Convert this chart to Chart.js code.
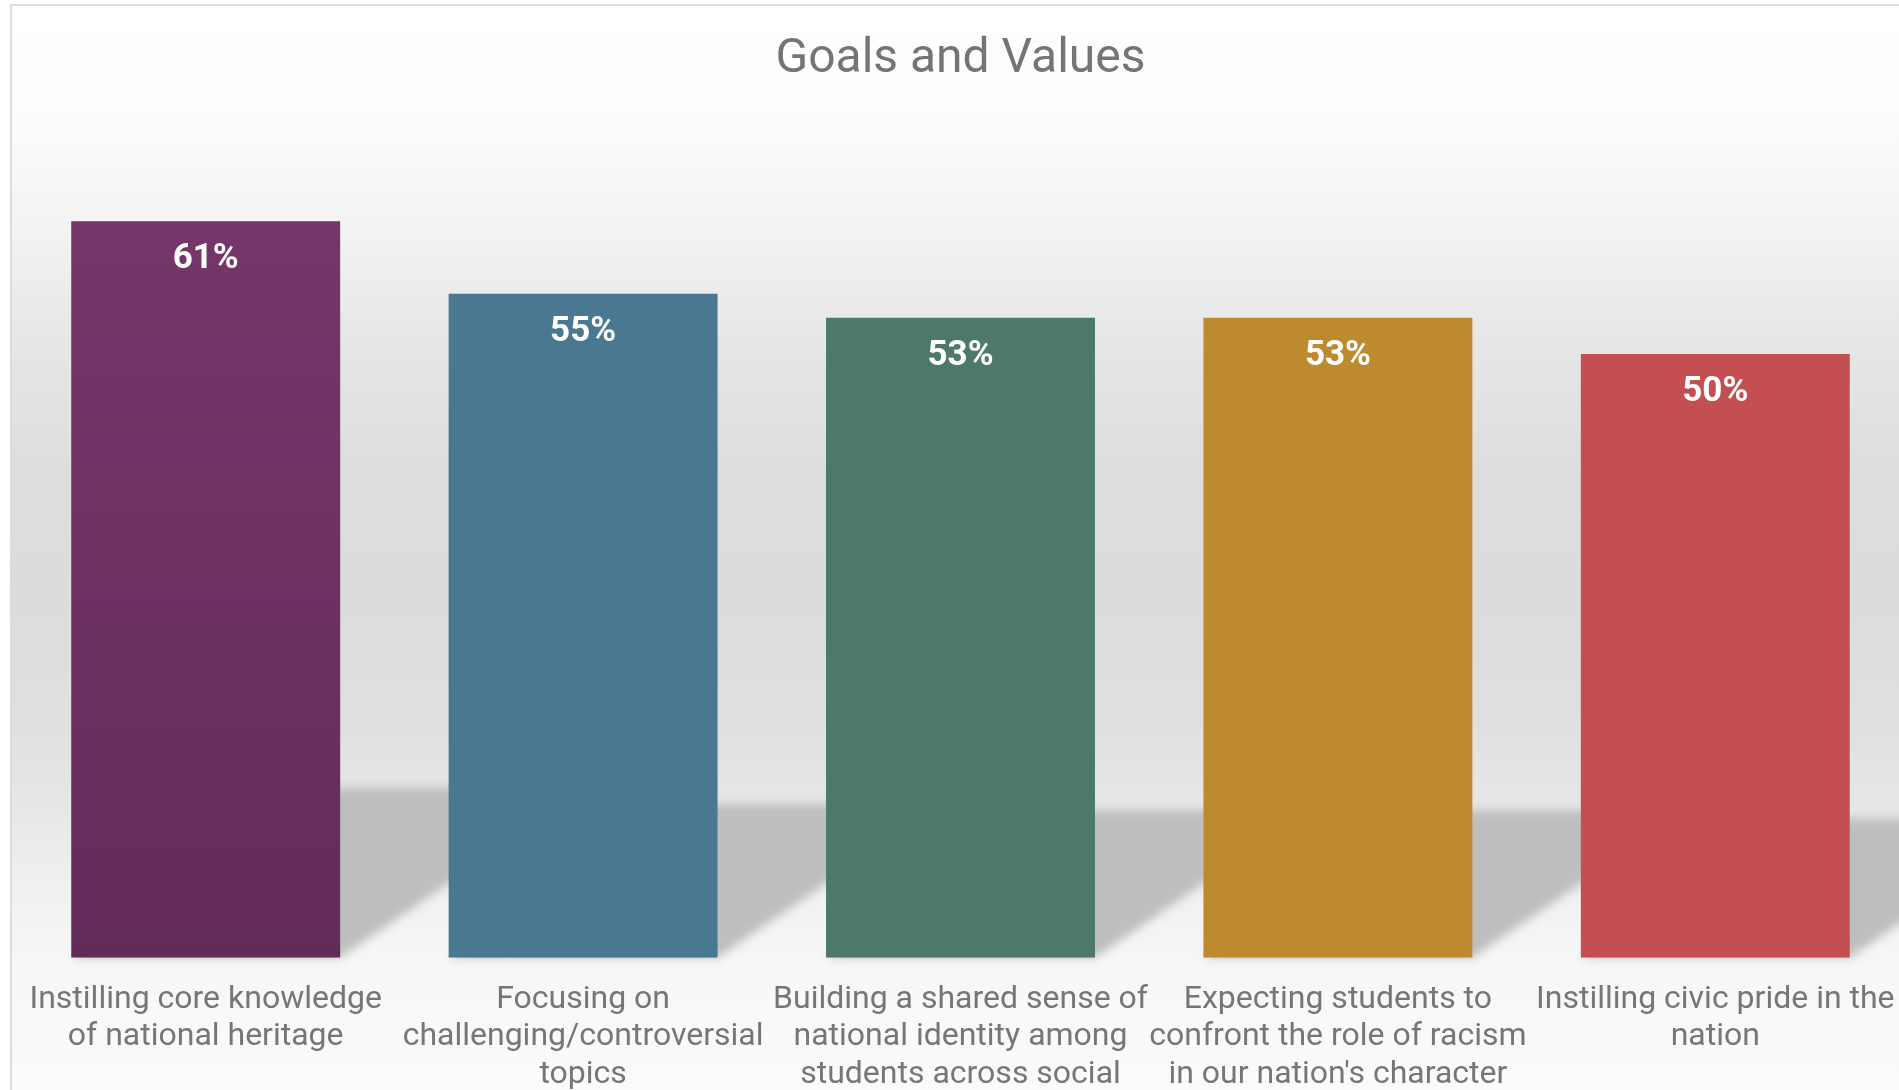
<!DOCTYPE html>
<html>
<head>
<meta charset="utf-8">
<script src="https://cdn.jsdelivr.net/npm/chart.js@4.4.1/dist/chart.umd.min.js"></script>
<style>
  html, body { margin: 0; padding: 0; background: #ffffff; overflow: hidden; width: 1899px; height: 1090px; }
  #frame {
    position: absolute; left: 10px; top: 4px;
    width: 1900px; height: 1140px;
    border: 2px solid #dcdcdc;
    background: linear-gradient(to bottom,
      #ffffff 0px, #fdfdfd 100px, #f3f3f3 220px, #e6e6e6 340px, #dddddd 470px,
      #dcdcdc 600px, #e0e0e0 720px, #e6e6e6 790px, #f0f0f0 880px, #f7f7f7 960px, #fbfbfb 1086px);
  }
  #wrap { position: absolute; left: 0; top: 0; width: 1900px; height: 1103px; }
</style>
</head>
<body>
<div id="frame"><div id="wrap"><canvas id="c"></canvas></div></div>
<script>
const chartTitle = 'Goals and Values';
const categories = [
  ['Instilling core knowledge', 'of national heritage'],
  ['Focusing on', 'challenging/controversial', 'topics'],
  ['Building a shared sense of', 'national identity among', 'students across social'],
  ['Expecting students to', 'confront the role of racism', "in our nation's character"],
  ['Instilling civic pride in the', 'nation']
];
const values = [61, 55, 53, 53, 50];
const barColors = ['#70346a', '#4b7891', '#4d796d', '#bd8a2d', '#c44f51'];
const firstBarGradient = ['#79376b', '#622c5a'];

const shadowPlugin = {
  id: 'floorShadow',
  beforeDatasetsDraw(chart) {
    const ctx = chart.ctx;
    const meta = chart.getDatasetMeta(0);
    ctx.save();
    ctx.filter = 'blur(5px)';
    ctx.fillStyle = '#bebebe';
    meta.data.forEach(bar => {
      const p = bar.getProps(['x', 'y', 'base', 'width'], true);
      const L = p.x - p.width / 2, R = p.x + p.width / 2;
      const h = p.base - p.y;
      const dx = h * 0.338, dy = h * 0.231;
      ctx.beginPath();
      ctx.moveTo(L, p.base);
      ctx.lineTo(R, p.base);
      ctx.lineTo(R + dx, p.base - dy);
      ctx.lineTo(L + dx, p.base - dy);
      ctx.closePath();
      ctx.fill();
    });
    ctx.restore();
  }
};

const valueLabelPlugin = {
  id: 'valueLabels',
  afterDatasetsDraw(chart) {
    const ctx = chart.ctx;
    const meta = chart.getDatasetMeta(0);
    ctx.save();
    ctx.fillStyle = '#ffffff';
    ctx.font = 'bold 35px Roboto';
    ctx.textAlign = 'center';
    ctx.textBaseline = 'alphabetic';
    meta.data.forEach((bar, i) => {
      const p = bar.getProps(['x', 'y'], true);
      ctx.fillText(values[i] + '%', p.x, p.y + 47);
    });
    ctx.restore();
  }
};

new Chart(document.getElementById('c'), {
  type: 'bar',
  data: {
    labels: categories,
    datasets: [{
      data: values,
      backgroundColor: (c) => {
        if (c.dataIndex === 0 && c.chart.chartArea) {
          const a = c.chart.chartArea;
          const el = c.chart.getDatasetMeta(0).data[0];
          const top = el && isFinite(el.y) ? el.y : a.top;
          const g = c.chart.ctx.createLinearGradient(0, top, 0, a.bottom);
          g.addColorStop(0, firstBarGradient[0]);
          g.addColorStop(1, firstBarGradient[1]);
          return g;
        }
        return barColors[c.dataIndex];
      },
      borderWidth: 0,
      categoryPercentage: 1.0,
      barPercentage: 0.7126
    }]
  },
  options: {
    responsive: true,
    maintainAspectRatio: false,
    animation: false,
    layout: { padding: { left: 5, right: 8, top: 0, bottom: 0 } },
    plugins: {
      legend: { display: false },
      tooltip: { enabled: false },
      title: {
        display: true,
        text: chartTitle,
        color: '#757575',
        font: { family: 'Roboto', size: 48, weight: '400', lineHeight: 1.2 },
        padding: { top: 25, bottom: 24 }
      }
    },
    scales: {
      x: {
        grid: { display: false },
        border: { display: false },
        ticks: {
          color: '#767676',
          font: { family: 'Roboto', size: 32, lineHeight: 1.18 },
          padding: 15,
          maxRotation: 0,
          autoSkip: false
        }
      },
      y: {
        display: false,
        min: 0,
        max: 70
      }
    }
  },
  plugins: [shadowPlugin, valueLabelPlugin]
});
</script>
</body>
</html>
